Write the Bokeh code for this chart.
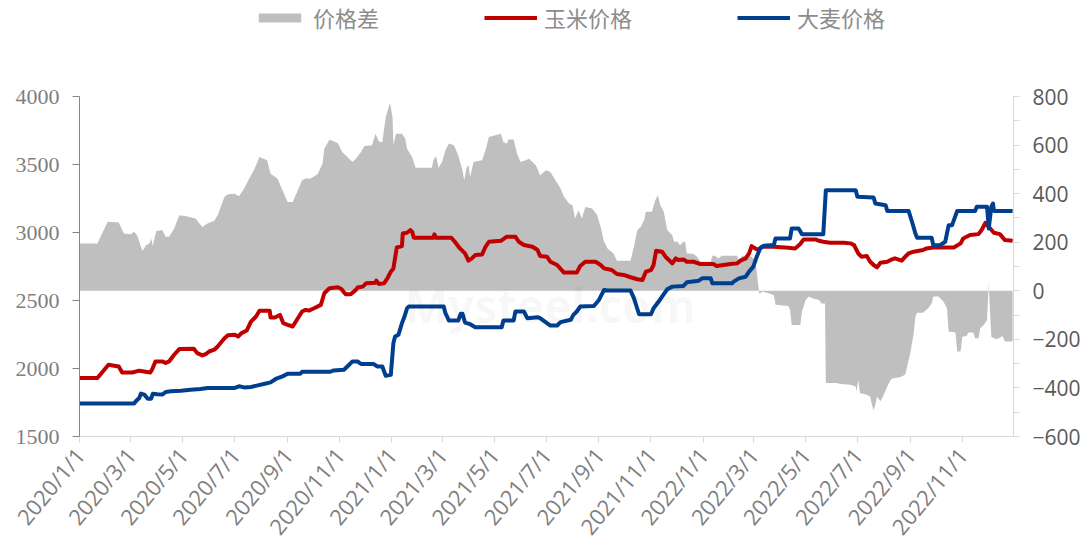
import pandas as pd
from bokeh.plotting import figure
from bokeh.layouts import column
from bokeh.models import (Range1d, LinearAxis, FixedTicker, SingleIntervalTicker,
                          Legend, LegendItem, ColumnDataSource, Label)
from bokeh.embed import file_html
from bokeh.resources import INLINE

# ---------------- data ----------------
corn_dates = [
    "2020-01-01", "2020-01-22", "2020-02-04", "2020-02-16", "2020-02-20", "2020-03-03", "2020-03-11",
    "2020-03-24", "2020-03-26", "2020-03-30", "2020-04-07", "2020-04-11", "2020-04-15", "2020-04-21",
    "2020-04-27", "2020-05-14", "2020-05-18", "2020-05-24", "2020-05-28", "2020-06-01", "2020-06-07",
    "2020-06-11", "2020-06-19", "2020-06-23", "2020-07-01", "2020-07-05", "2020-07-09", "2020-07-15",
    "2020-07-20", "2020-07-26", "2020-07-30", "2020-08-11", "2020-08-12", "2020-08-17", "2020-08-23",
    "2020-08-27", "2020-09-01", "2020-09-07", "2020-09-13", "2020-09-18", "2020-09-22", "2020-09-26",
    "2020-10-02", "2020-10-10", "2020-10-14", "2020-10-20", "2020-10-30", "2020-11-03", "2020-11-08",
    "2020-11-14", "2020-11-20", "2020-11-22", "2020-11-28", "2020-12-02", "2020-12-13", "2020-12-14",
    "2020-12-17", "2020-12-23", "2020-12-27", "2020-12-31", "2021-01-03", "2021-01-07", "2021-01-13",
    "2021-01-14", "2021-01-19", "2021-01-23", "2021-01-25", "2021-01-27", "2021-02-19", "2021-02-20",
    "2021-02-22", "2021-03-12", "2021-03-16", "2021-03-22", "2021-03-28", "2021-04-01", "2021-04-05",
    "2021-04-09", "2021-04-17", "2021-04-21", "2021-04-25", "2021-05-09", "2021-05-16", "2021-05-26",
    "2021-05-30", "2021-06-05", "2021-06-15", "2021-06-21", "2021-06-24", "2021-07-02", "2021-07-06",
    "2021-07-14", "2021-07-22", "2021-08-06", "2021-08-10", "2021-08-16", "2021-08-28", "2021-09-03",
    "2021-09-07", "2021-09-16", "2021-09-22", "2021-09-30", "2021-10-08", "2021-10-16", "2021-10-22",
    "2021-10-26", "2021-11-01", "2021-11-04", "2021-11-07", "2021-11-14", "2021-11-18", "2021-11-22",
    "2021-11-26", "2021-11-30", "2021-12-03", "2021-12-09", "2021-12-13", "2021-12-21", "2021-12-29",
    "2022-01-13", "2022-01-17", "2022-01-25", "2022-02-02", "2022-02-10", "2022-02-14", "2022-02-20",
    "2022-02-24", "2022-02-27", "2022-03-03", "2022-03-07", "2022-03-11", "2022-03-25", "2022-04-11",
    "2022-04-19", "2022-04-25", "2022-04-29", "2022-05-13", "2022-05-17", "2022-05-22", "2022-05-30",
    "2022-06-15", "2022-06-23", "2022-06-27", "2022-07-02", "2022-07-06", "2022-07-12", "2022-07-16",
    "2022-07-20", "2022-07-24", "2022-07-28", "2022-08-05", "2022-08-09", "2022-08-14", "2022-08-22",
    "2022-08-26", "2022-08-30", "2022-09-05", "2022-09-16", "2022-09-20", "2022-09-28", "2022-10-22",
    "2022-10-30", "2022-11-02", "2022-11-10", "2022-11-20", "2022-11-24", "2022-11-28", "2022-12-02",
    "2022-12-08", "2022-12-15", "2022-12-21", "2022-12-30",
]
corn_price = [
    1930, 1930, 2028, 2015, 1971, 1971, 1984,
    1971, 1991, 2052, 2052, 2040, 2052, 2101,
    2143, 2145, 2113, 2096, 2106, 2125, 2138,
    2162, 2223, 2245, 2248, 2235, 2260, 2279,
    2345, 2382, 2424, 2424, 2375, 2375, 2394,
    2333, 2321, 2309, 2370, 2419, 2431, 2426,
    2443, 2468, 2553, 2590, 2597, 2585, 2546,
    2546, 2578, 2595, 2602, 2626, 2631, 2646,
    2622, 2626, 2663, 2712, 2736, 2890, 2900,
    2993, 2998, 3017, 3005, 2961, 2961, 2986,
    2961, 2961, 2932, 2883, 2846, 2793, 2810,
    2834, 2839, 2895, 2932, 2939, 2969, 2969,
    2932, 2908, 2895, 2871, 2827, 2822, 2785,
    2761, 2705, 2705, 2754, 2785, 2785, 2761,
    2736, 2724, 2695, 2688, 2671, 2656, 2651,
    2712, 2724, 2761, 2866, 2859, 2822, 2798,
    2773, 2810, 2798, 2802, 2785, 2785, 2768,
    2768, 2754, 2761, 2768, 2773, 2793, 2810,
    2846, 2900, 2883, 2871, 2895, 2895, 2888,
    2883, 2915, 2949, 2949, 2939, 2932, 2925,
    2925, 2920, 2908, 2846, 2822, 2827, 2785,
    2761, 2744, 2778, 2785, 2798, 2810, 2793,
    2822, 2846, 2859, 2871, 2883, 2890, 2890,
    2920, 2956, 2981, 2988, 3022, 3071, 3042,
    2998, 2988, 2944, 2939,
]

barley_dates = [
    "2020-01-01", "2020-03-05", "2020-03-07", "2020-03-11", "2020-03-13", "2020-03-17", "2020-03-21",
    "2020-03-25", "2020-03-27", "2020-04-01", "2020-04-07", "2020-04-11", "2020-04-17", "2020-04-29",
    "2020-05-10", "2020-05-22", "2020-05-30", "2020-07-01", "2020-07-06", "2020-07-12", "2020-07-20",
    "2020-07-28", "2020-08-04", "2020-08-12", "2020-08-18", "2020-08-26", "2020-09-01", "2020-09-16",
    "2020-09-18", "2020-10-21", "2020-10-25", "2020-11-06", "2020-11-10", "2020-11-16", "2020-11-22",
    "2020-11-26", "2020-12-11", "2020-12-15", "2020-12-21", "2020-12-25", "2020-12-31", "2021-01-03",
    "2021-01-05", "2021-01-09", "2021-01-13", "2021-01-16", "2021-01-19", "2021-01-21", "2021-03-03",
    "2021-03-05", "2021-03-07", "2021-03-09", "2021-03-20", "2021-03-23", "2021-03-25", "2021-03-28",
    "2021-04-03", "2021-04-09", "2021-05-10", "2021-05-12", "2021-05-24", "2021-05-26", "2021-06-05",
    "2021-06-09", "2021-06-21", "2021-06-24", "2021-07-02", "2021-07-06", "2021-07-14", "2021-07-18",
    "2021-07-30", "2021-08-02", "2021-08-06", "2021-08-10", "2021-08-26", "2021-09-01", "2021-09-07",
    "2021-09-11", "2021-10-08", "2021-10-12", "2021-10-18", "2021-11-01", "2021-11-04", "2021-11-10",
    "2021-11-14", "2021-11-20", "2021-11-26", "2021-12-09", "2021-12-13", "2021-12-27", "2021-12-31",
    "2022-01-10", "2022-01-12", "2022-02-04", "2022-02-06", "2022-02-12", "2022-02-20", "2022-02-24",
    "2022-03-01", "2022-03-05", "2022-03-09", "2022-03-13", "2022-03-25", "2022-03-27", "2022-04-13",
    "2022-04-15", "2022-04-23", "2022-04-27", "2022-05-22", "2022-05-25", "2022-06-29", "2022-07-01",
    "2022-07-20", "2022-07-22", "2022-08-03", "2022-08-05", "2022-08-30", "2022-09-03", "2022-09-07",
    "2022-09-09", "2022-09-26", "2022-09-28", "2022-10-06", "2022-10-12", "2022-10-16", "2022-10-20",
    "2022-10-26", "2022-11-16", "2022-11-18", "2022-11-30", "2022-12-02", "2022-12-05", "2022-12-07",
    "2022-12-08", "2022-12-30",
]
barley_price = [
    1742, 1742, 1759, 1783, 1815, 1808, 1778,
    1778, 1815, 1810, 1808, 1827, 1832, 1837,
    1844, 1849, 1857, 1857, 1869, 1861, 1864,
    1876, 1886, 1898, 1923, 1942, 1962, 1962,
    1976, 1976, 1986, 1991, 2015, 2052, 2052,
    2033, 2033, 2015, 2015, 1947, 1954, 2187,
    2235, 2248, 2333, 2382, 2443, 2455, 2455,
    2407, 2382, 2353, 2353, 2402, 2402, 2338,
    2326, 2304, 2304, 2353, 2353, 2419, 2419,
    2370, 2377, 2370, 2333, 2316, 2316, 2341,
    2358, 2394, 2419, 2455, 2460, 2504, 2578,
    2573, 2573, 2517, 2399, 2399, 2443, 2492,
    2529, 2582, 2602, 2607, 2634, 2646, 2663,
    2663, 2626, 2626, 2639, 2663, 2675, 2712,
    2749, 2822, 2883, 2903, 2908, 2956, 2956,
    3030, 3030, 2988, 2988, 3311, 3311, 3262,
    3257, 3213, 3201, 3159, 3159, 3079, 2993,
    2961, 2961, 2907, 2907, 2932, 3054, 3054,
    3159, 3159, 3189, 3189, 3030, 3189, 3213,
    3159, 3159,
]

spread_dates = [
    "2020-01-01", "2020-01-22", "2020-02-03", "2020-02-16", "2020-02-22", "2020-03-01", "2020-03-05",
    "2020-03-09", "2020-03-13", "2020-03-15", "2020-03-19", "2020-03-23", "2020-03-25", "2020-03-27",
    "2020-03-28", "2020-03-31", "2020-04-07", "2020-04-11", "2020-04-15", "2020-04-21", "2020-04-27",
    "2020-05-05", "2020-05-16", "2020-05-24", "2020-05-30", "2020-06-07", "2020-06-11", "2020-06-19",
    "2020-06-23", "2020-07-01", "2020-07-06", "2020-07-12", "2020-07-18", "2020-07-24", "2020-07-30",
    "2020-08-08", "2020-08-12", "2020-08-20", "2020-08-26", "2020-09-01", "2020-09-07", "2020-09-13",
    "2020-09-18", "2020-09-22", "2020-09-28", "2020-10-06", "2020-10-12", "2020-10-14", "2020-10-20",
    "2020-10-24", "2020-10-30", "2020-11-04", "2020-11-10", "2020-11-16", "2020-11-20", "2020-11-26",
    "2020-11-30", "2020-12-09", "2020-12-13", "2020-12-17", "2020-12-21", "2020-12-25", "2020-12-30",
    "2021-01-02", "2021-01-03", "2021-01-06", "2021-01-13", "2021-01-17", "2021-01-19", "2021-01-25",
    "2021-01-29", "2021-02-17", "2021-02-19", "2021-02-22", "2021-02-25", "2021-03-01", "2021-03-05",
    "2021-03-09", "2021-03-15", "2021-03-20", "2021-03-25", "2021-03-27", "2021-03-30", "2021-04-01",
    "2021-04-03", "2021-04-07", "2021-04-17", "2021-04-21", "2021-04-25", "2021-05-09", "2021-05-12",
    "2021-05-16", "2021-05-18", "2021-05-24", "2021-05-28", "2021-06-01", "2021-06-07", "2021-06-11",
    "2021-06-15", "2021-06-19", "2021-06-24", "2021-07-01", "2021-07-06", "2021-07-12", "2021-07-18",
    "2021-07-22", "2021-07-28", "2021-08-01", "2021-08-04", "2021-08-08", "2021-08-12", "2021-08-16",
    "2021-08-24", "2021-08-30", "2021-09-03", "2021-09-07", "2021-09-11", "2021-09-18", "2021-09-22",
    "2021-10-08", "2021-10-12", "2021-10-16", "2021-10-20", "2021-10-24", "2021-10-26", "2021-11-02",
    "2021-11-06", "2021-11-09", "2021-11-12", "2021-11-16", "2021-11-20", "2021-11-26", "2021-11-28",
    "2021-12-02", "2021-12-05", "2021-12-09", "2021-12-11", "2021-12-13", "2021-12-17", "2021-12-21",
    "2021-12-25", "2021-12-29", "2022-01-10", "2022-01-12", "2022-01-15", "2022-01-19", "2022-01-23",
    "2022-02-10", "2022-02-12", "2022-02-16", "2022-02-22", "2022-02-27", "2022-03-03", "2022-03-05",
    "2022-03-07", "2022-03-08", "2022-03-11", "2022-03-13", "2022-03-25", "2022-03-27", "2022-04-11",
    "2022-04-13", "2022-04-15", "2022-04-25", "2022-04-27", "2022-05-01", "2022-05-05", "2022-05-09",
    "2022-05-17", "2022-05-20", "2022-05-24", "2022-05-25", "2022-06-07", "2022-06-11", "2022-06-23",
    "2022-06-29", "2022-06-30", "2022-07-02", "2022-07-04", "2022-07-12", "2022-07-16", "2022-07-18",
    "2022-07-20", "2022-07-22", "2022-07-24", "2022-07-28", "2022-08-01", "2022-08-05", "2022-08-09",
    "2022-08-12", "2022-08-20", "2022-08-26", "2022-09-01", "2022-09-05", "2022-09-07", "2022-09-09",
    "2022-09-16", "2022-09-22", "2022-09-26", "2022-09-28", "2022-10-04", "2022-10-10", "2022-10-14",
    "2022-10-16", "2022-10-24", "2022-10-26", "2022-10-30", "2022-11-01", "2022-11-06", "2022-11-08",
    "2022-11-14", "2022-11-16", "2022-11-20", "2022-11-22", "2022-11-26", "2022-11-30", "2022-12-02",
    "2022-12-03", "2022-12-05", "2022-12-10", "2022-12-14", "2022-12-18", "2022-12-21", "2022-12-30",
]
spread_values = [
    195, 195, 284, 281, 236, 233, 243,
    226, 181, 165, 188, 195, 215, 184,
    202, 246, 250, 222, 222, 256, 311,
    307, 298, 263, 277, 288, 311, 387,
    398, 400, 389, 421, 462, 500, 551,
    537, 482, 462, 414, 366, 366, 414,
    455, 462, 462, 480, 523, 585, 622,
    617, 608, 571, 551, 530, 544, 571,
    596, 599, 647, 615, 612, 715, 774,
    715, 599, 647, 647, 626, 585, 551,
    507, 507, 537, 554, 507, 530, 578,
    606, 599, 558, 496, 455, 510, 517,
    469, 530, 537, 578, 633, 647, 612,
    606, 623, 623, 564, 530, 537, 544,
    530, 517, 476, 496, 489, 455, 421,
    387, 359, 352, 298, 332, 298, 345,
    339, 311, 263, 202, 174, 154, 124,
    124, 181, 250, 263, 291, 325, 325,
    373, 393, 352, 325, 250, 229, 202,
    202, 188, 202, 202, 154, 154, 151,
    140, 120, 120, 144, 144, 133, 144,
    144, 126, 144, 144, 140, 126, 79,
    17, -13, -4, -4, -17, -58, -63,
    -79, -141, -141, -86, -41, -24, -31,
    -38, -52, -52, -380, -380, -384, -387,
    -394, -414, -366, -421, -428, -435, -469,
    -492, -469, -435, -455, -428, -394, -366,
    -360, -356, -346, -257, -175, -106, -90,
    -90, -72, -52, -24, -24, -45, -72,
    -168, -172, -250, -250, -189, -186, -172,
    -172, -195, -195, -154, -141, -120, 33,
    -52, -189, -199, -195, -186, -209, -209,
]

tick_dates = ["2020-01-01", "2020-03-01", "2020-05-01", "2020-07-01", "2020-09-01", "2020-11-01",
              "2021-01-01", "2021-03-01", "2021-05-01", "2021-07-01", "2021-09-01", "2021-11-01",
              "2022-01-01", "2022-03-01", "2022-05-01", "2022-07-01", "2022-09-01", "2022-11-01"]
tick_labels = ["2020/1/1", "2020/3/1", "2020/5/1", "2020/7/1", "2020/9/1", "2020/11/1",
               "2021/1/1", "2021/3/1", "2021/5/1", "2021/7/1", "2021/9/1", "2021/11/1",
               "2022/1/1", "2022/3/1", "2022/5/1", "2022/7/1", "2022/9/1", "2022/11/1"]

series_names = ["价格差", "玉米价格", "大麦价格"]

AREA_COLOR = "#bfbfbf"
CORN_COLOR = "#c00000"
BARLEY_COLOR = "#003e8f"

# ---------------- main figure ----------------
def to_ms(s):
    return pd.Timestamp(s).value / 1e6

corn_src = ColumnDataSource(dict(x=pd.to_datetime(corn_dates), y=corn_price))
barley_src = ColumnDataSource(dict(x=pd.to_datetime(barley_dates), y=barley_price))
spread_src = ColumnDataSource(dict(x=pd.to_datetime(spread_dates), y=spread_values))

x_start, x_end = to_ms("2020-01-01"), to_ms("2022-12-31")

LEG_H = 40
p = figure(width=1083, height=553 - LEG_H, x_axis_type="datetime",
           x_range=Range1d(x_start, x_end),
           y_range=Range1d(1500, 4000),
           output_backend="svg", toolbar_location=None,
           min_border_left=79, min_border_right=70, min_border_top=96 - LEG_H,
           min_border_bottom=117)
p.extra_y_ranges = {"right": Range1d(-600, 800)}
p.outline_line_color = None
p.xgrid.visible = False
p.ygrid.visible = False

area = p.varea(x="x", y1=0, y2="y", source=spread_src, y_range_name="right",
               fill_color=AREA_COLOR, fill_alpha=1.0)

wm = Label(x=to_ms("2021-07-06"), y=-60, y_range_name="right", text="Mysteel.com",
           text_align="center", text_baseline="middle", text_font="Open Sans",
           text_font_style="bold", text_font_size="46px", text_color="#000000", text_alpha=0.04)
p.add_layout(wm)

r_corn = p.line(x="x", y="y", source=corn_src, line_color=CORN_COLOR, line_width=4,
                line_join="round")
r_barley = p.line(x="x", y="y", source=barley_src, line_color=BARLEY_COLOR, line_width=4,
                  line_join="round")

# left axis
ya = p.yaxis[0]
ya.ticker = SingleIntervalTicker(interval=500, num_minor_ticks=0)
ya.major_label_text_font = "Liberation Serif"
ya.major_label_text_font_size = "22px"
ya.major_label_text_color = "#7f7f7f"
ya.axis_line_color = "#868686"
ya.major_tick_line_color = "#868686"
ya.major_tick_out = 7
ya.major_tick_in = 0
ya.minor_tick_line_color = None
ya.major_label_standoff = 13

# right axis
ra = LinearAxis(y_range_name="right", ticker=SingleIntervalTicker(interval=200, num_minor_ticks=2))
ra.major_label_text_font = "Open Sans"
ra.major_label_text_font_size = "21px"
ra.major_label_text_color = "#595959"
ra.axis_line_color = "#d9d9d9"
ra.major_tick_line_color = "#d9d9d9"
ra.minor_tick_line_color = "#d9d9d9"
ra.major_tick_out = 6
ra.major_tick_in = 0
ra.minor_tick_out = 6
ra.minor_tick_in = 0
ra.major_label_standoff = 13
p.add_layout(ra, "right")

# x axis
xa = p.xaxis[0]
tick_ms = [to_ms(d) for d in tick_dates]
xa.ticker = FixedTicker(ticks=tick_ms)
xa.major_label_overrides = {t: lab for t, lab in zip(tick_ms, tick_labels)}
xa.major_label_orientation = 0.88
xa.major_label_text_font = "Open Sans"
xa.major_label_text_font_size = "22px"
xa.major_label_text_color = "#7f7f7f"
xa.axis_line_color = "#d9d9d9"
xa.major_tick_line_color = "#d9d9d9"
xa.major_tick_out = 6
xa.major_tick_in = 0
xa.minor_tick_line_color = None
xa.major_label_standoff = 8

# ---------------- legend strip ----------------
# The strip re-uses the same sources; its y range lies far above every value,
# so only the legend swatches are visible there.
lg = figure(width=1083, height=LEG_H, x_range=Range1d(x_start, x_end),
            y_range=Range1d(90000, 90001),
            output_backend="svg", toolbar_location=None,
            x_axis_location=None, y_axis_location=None,
            min_border_left=0, min_border_right=0, min_border_top=0, min_border_bottom=0)
lg.outline_line_color = None
lg.xgrid.visible = False
lg.ygrid.visible = False
lg_area = lg.varea(x="x", y1=0, y2="y", source=spread_src, fill_color=AREA_COLOR)
lg_corn = lg.line(x="x", y="y", source=corn_src, line_color=CORN_COLOR, line_width=4)
lg_barley = lg.line(x="x", y="y", source=barley_src, line_color=BARLEY_COLOR, line_width=4)

legend = Legend(items=[LegendItem(label=series_names[0], renderers=[lg_area]),
                       LegendItem(label=series_names[1], renderers=[lg_corn]),
                       LegendItem(label=series_names[2], renderers=[lg_barley])],
                orientation="horizontal", location=(174, 7),
                glyph_width=53, glyph_height=11, label_standoff=7, spacing=105,
                label_height=32,
                padding=0, margin=0, border_line_color=None, background_fill_alpha=0,
                label_text_font="Noto Sans CJK SC", label_text_font_size="22px",
                label_text_color="#8c8c8c")
lg.add_layout(legend, "center")

layout = column(lg, p, spacing=0)
open("out.html", "w").write(file_html(layout, INLINE))
